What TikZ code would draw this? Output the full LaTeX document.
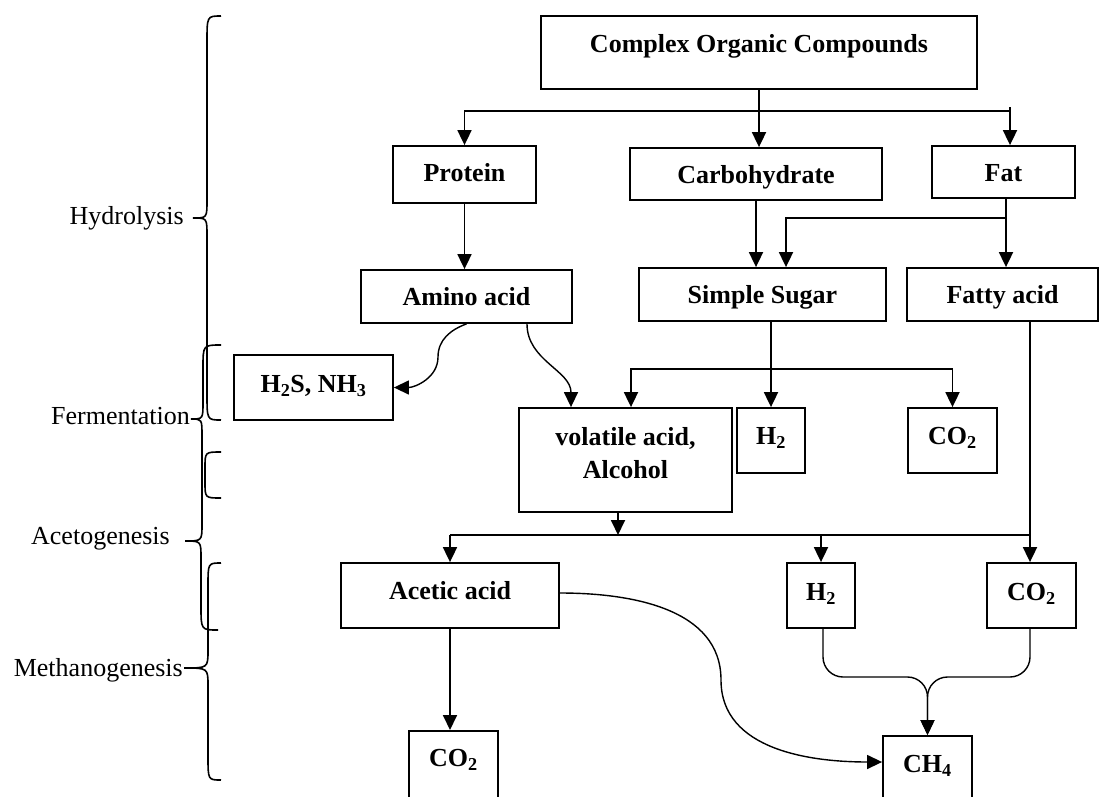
\documentclass[tikz,border=0pt]{standalone}
\usepackage{fontspec}
\setmainfont{Liberation Serif}
\usetikzlibrary{arrows.meta,calc}

\tikzset{
  box/.style={draw, line width=1.8pt, inner sep=0pt, align=center,
    font=\fontsize{26}{33}\selectfont\bfseries},
  txt/.style={text height=18pt, text depth=#1}, txt/.default=0pt,
  cutbox/.style={box, anchor=north, text depth=60pt},
  conn/.style={line width=1.8pt},
  arr/.style={line width=1.8pt, -{Triangle[length=15pt,width=14pt]}},
  curve/.style={arr, line width=1.4pt},
  brace/.style={line width=1.6pt},
  stage/.style={anchor=east, inner sep=0pt, font=\fontsize{26}{30}\selectfont}
}

\begin{document}
\begin{tikzpicture}[x=1pt,y=1pt,yscale=-1]
\useasboundingbox (0,0) rectangle (1101,796);
\clip (0,0) rectangle (1101,796);

% Boxes
\node[box, txt=18pt, minimum width=436pt, minimum height=73pt] (complex) at (759,52.5) {Complex Organic Compounds};
\node[box, txt=4pt, minimum width=143pt, minimum height=57pt] (protein) at (464.5,174.5) {Protein};
\node[box, txt, minimum width=252pt, minimum height=52pt] (carbo) at (756,174) {Carbohydrate};
\node[box, txt, minimum width=143pt, minimum height=52pt] (fat) at (1003.5,172) {Fat};
\node[box, txt, minimum width=211pt, minimum height=53pt] (amino) at (466.5,296.5) {Amino acid};
\node[box, txt, minimum width=247pt, minimum height=53pt] (sugar) at (762.5,294.5) {Simple Sugar};
\node[box, txt, minimum width=191pt, minimum height=53pt] (fatty) at (1002.5,294.5) {Fatty acid};
\node[box, txt=8pt, minimum width=159pt, minimum height=65pt] (hs) at (313.5,387.5) {H\textsubscript{2}S, NH\textsubscript{3}};
\node[box, minimum width=213pt, minimum height=104pt, text depth=14pt] (vfa) at (625.5,460) {volatile acid,\\Alcohol};
\node[box, txt=10pt, minimum width=68pt, minimum height=65pt] (h2a) at (771,440.5) {H\textsubscript{2}};
\node[box, txt=10pt, minimum width=89pt, minimum height=65pt] (co2a) at (952.5,440.5) {CO\textsubscript{2}};
\node[box, txt=11pt, minimum width=218pt, minimum height=65pt] (acetic) at (450,595.5) {Acetic acid};
\node[box, txt=8pt, minimum width=68pt, minimum height=65pt] (h2b) at (821,595.5) {H\textsubscript{2}};
\node[box, txt=8pt, minimum width=89pt, minimum height=65pt] (co2b) at (1031.5,595.5) {CO\textsubscript{2}};
\node[cutbox, minimum width=89pt, text height=36pt] (co2c) at (453.5,730) {CO\textsubscript{2}};
\node[cutbox, minimum width=89pt, text height=37pt] (ch4) at (927.5,735) {CH\textsubscript{4}};

% Stage labels
\node[stage] (hyd) at (184,218) {Hydrolysis};
\node[stage] (ferm) at (190,416) {Fermentation};
\node[stage] (acet) at (170,538.5) {Acetogenesis};
\node[stage] (meth) at (183,670) {Methanogenesis};

% Braces
\draw[brace] (221,16) .. controls (207,16) .. (207,42) -- (207,200) .. controls (207,218) .. (193,218)
  .. controls (207,218) .. (207,236) -- (207,394) .. controls (207,420) .. (221,420);
\draw[brace] (221,345) .. controls (203,345) .. (203,368) -- (203,402) .. controls (203,419) .. (191,419)
  .. controls (202,419) .. (202,436) -- (202,524) .. controls (202,541) .. (185,541)
  .. controls (201,541) .. (201,558) -- (201,606) .. controls (201,630) .. (218,630);
\draw[brace] (221,452) .. controls (205,452) .. (205,468) -- (205,482) .. controls (205,498) .. (221,498);
\draw[brace] (221,563) .. controls (208,563) .. (208,586) -- (208,650) .. controls (208,668) .. (184,668)
  .. controls (208,668) .. (208,686) -- (208,756) .. controls (208,780) .. (221,780);

% Hydrolysis connectors
\coordinate (t1) at (759,111);
\coordinate (tick) at (1010,107);
\draw[conn] (complex.south) -- (t1);
\draw[conn] (t1) -- (t1 -| tick);
\draw[arr] (t1) -| (protein.north);
\draw[arr] (t1) -- (t1 |- carbo.north);
\draw[arr] (tick) -- (tick |- fat.north);
\draw[arr] (protein.south) -- (protein.south |- amino.north);
\draw[arr] (carbo.south) -- (carbo.south |- sugar.north);
\draw[arr] ([xshift=2.5pt]fat.south) -- ([xshift=2.5pt]fat.south |- fatty.north);
\coordinate (t3) at (1006,218);
\draw[arr] (t3) -| ([xshift=23.5pt]sugar.north);

% Fermentation connectors (y axis flipped: angles measured downwards)
\coordinate (c1) at (438,357);
\draw[curve] (amino.south) to[out=160,in=-90] (c1) to[out=90,in=0] (hs.east);
\draw[curve] ([xshift=60.5pt]amino.south) to[out=90,in=-90] ([xshift=-54.5pt]vfa.north);
\draw[arr] (sugar.south -| h2a.north) -- (h2a.north);
\coordinate (t4) at (771,369);
\draw[arr] (t4) -| ([xshift=5.5pt]vfa.north);
\draw[arr] (t4) -| (co2a.north);

% Acetogenesis connectors
\coordinate (t5) at (618,535);
\coordinate (t6) at (1030,535);
\draw[arr] ([xshift=-7.5pt]vfa.south) -- (t5);
\draw[conn] ([xshift=27.5pt]fatty.south) -- (t6);
\draw[conn] (acetic.north |- t6) -- (t6);
\draw[arr] (acetic.north |- t6) -- (acetic.north);
\draw[arr] (h2b.north |- t6) -- (h2b.north);
\draw[arr] (t6) -- (t6 |- co2b.north);

% Methanogenesis connectors
\draw[arr] (acetic.south) -- (acetic.south |- co2c.north);
\coordinate (c2) at (721,680);
\draw[curve] ($(acetic.east)+(0,-2.5)$) to[out=0,in=-90] (c2) to[out=90,in=180] ($(ch4.north west)+(0,27)$);
\coordinate (m) at (927.5,677);
\draw[curve, rounded corners=20pt] ([xshift=2pt]h2b.south) |- (m) -- (ch4.north);
\draw[curve, rounded corners=20pt] ([xshift=-1.5pt]co2b.south) |- (m) -- (ch4.north);

\end{tikzpicture}
\end{document}
